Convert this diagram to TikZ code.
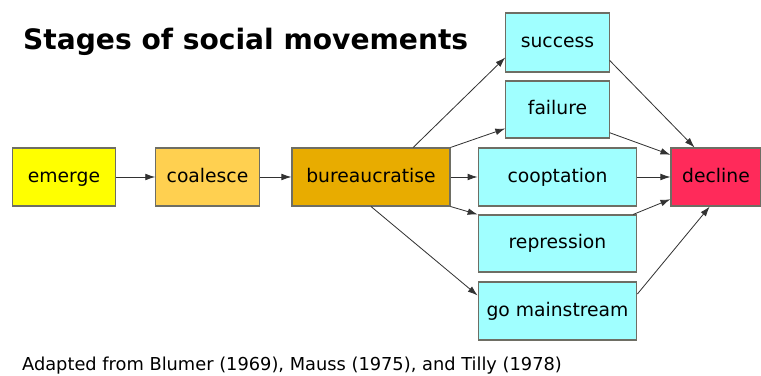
\documentclass[tikz,border=0pt]{standalone}
\usepackage{fontspec}
\setmainfont{DejaVu Sans}
\usetikzlibrary{arrows.meta}

\begin{document}
\begin{tikzpicture}[x=0.03cm, y=-0.03cm,
    stage/.style={draw=boxline, line width=0.9pt, inner sep=0pt,
        text height=12pt, text depth=3.4pt,
        font=\fontsize{16}{19}\selectfont},
    narrow/.style={stage, minimum width=3.1cm, minimum height=1.74cm},
    wide/.style={stage, minimum width=4.76cm, minimum height=1.74cm},
    flow/.style={draw=arrowgray, line width=0.7pt, -{Latex[length=3mm,width=2mm]}}]

    % Define colors
    \definecolor{boxline}{RGB}{110,110,100}
    \definecolor{arrowgray}{RGB}{50,50,50}
    \definecolor{emergeyellow}{RGB}{255,255,0}
    \definecolor{coalesceorange}{RGB}{255,208,80}
    \definecolor{bureauorange}{RGB}{232,172,0}
    \definecolor{outcomecyan}{RGB}{160,255,255}
    \definecolor{declinered}{RGB}{255,42,90}

    \useasboundingbox (0,0) rectangle (761,376);

    % Title and source
    \node[anchor=base west, font=\fontsize{24}{28}\selectfont\bfseries] (title) at (19,50) {Stages of social movements};
    \node[anchor=base west, font=\fontsize{15.2}{18}\selectfont] (source) at (18,370) {Adapted from Blumer (1969), Mauss (1975), and Tilly (1978)};

    % First stages
    \node[narrow, fill=emergeyellow] (emerge) at (64,177) {emerge};
    \node[narrow, fill=coalesceorange] (coalesce) at (207.5,177) {coalesce};
    \node[wide, fill=bureauorange, minimum width=4.74cm] (bureau) at (371,177) {bureaucratise};

    % Outcomes
    \node[narrow, fill=outcomecyan, minimum height=1.77cm] (success) at (557.5,42.5) {success};
    \node[narrow, fill=outcomecyan, minimum height=1.71cm] (failure) at (557.5,109.5) {failure};
    \node[wide, fill=outcomecyan] (cooptation) at (557.5,177) {cooptation};
    \node[wide, fill=outcomecyan, minimum height=1.71cm] (repression) at (557.5,243.5) {repression};
    \node[wide, fill=outcomecyan] (mainstream) at (557.5,311) {go mainstream};

    \node[stage, fill=declinered, minimum width=2.7cm, minimum height=1.74cm] (decline) at (716,177) {decline};

    %-------------
    \draw[flow] (emerge) -- (coalesce);
    \draw[flow] (coalesce) -- (bureau);

    \draw[flow] (bureau.35) -- (success.196);
    \draw[flow] (bureau.north east) -- (failure.200);
    \draw[flow] (bureau) -- (cooptation);
    \draw[flow] (bureau.south east) -- (repression.north west);
    \draw[flow] (bureau.south) -- (mainstream.169);

    %-------------
    \draw[flow] (success.341) -- (decline.126);
    \draw[flow] (failure.336) -- (decline.154);
    \draw[flow] (cooptation) -- (decline);
    \draw[flow] (repression.21.5) -- (decline.206);
    \draw[flow] (mainstream.12) -- (decline.258);

\end{tikzpicture}
\end{document}
